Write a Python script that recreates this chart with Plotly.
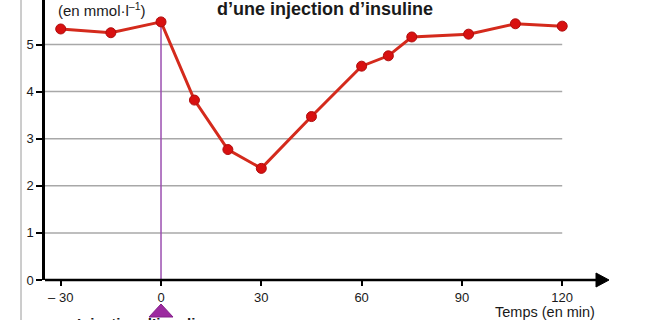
import plotly.graph_objects as go

# Data
temps = [-30, -15, 0, 10, 20, 30, 45, 60, 68, 75, 92, 106, 120]
glycemie = [5.33, 5.25, 5.48, 3.82, 2.77, 2.37, 3.47, 4.54, 4.76, 5.16, 5.22, 5.44, 5.39]
x_ticks = [-30, 0, 30, 60, 90, 120]
x_ticklabels = ["– 30", "0", "30", "60", "90", "120"]
y_ticks = [0, 1, 2, 3, 4, 5]
injection_time = 0

W, H = 646, 320
L, R, T, B = 45, 41, 0, 40
PW, PH = W - L - R, H - T - B
XR = [-34.7, 132.8]
YR = [0, 5.945]

def px(xp):
    return (xp - L) / PW

def py(yp):
    return (H - B - yp) / PH

FONT = "Liberation Sans Narrow, Liberation Sans, Arial, sans-serif"
RED = "#d42a1c"

fig = go.Figure()

# injection marker line
inj_val = glycemie[temps.index(injection_time)]
fig.add_trace(go.Scatter(x=[injection_time, injection_time], y=[inj_val, 0], mode="lines",
                         line=dict(color="#9b4fb0", width=1.5), hoverinfo="skip", showlegend=False))

fig.add_trace(go.Scatter(x=temps, y=glycemie, mode="lines+markers",
                         line=dict(color=RED, width=3),
                         marker=dict(size=10, color="#d81010", line=dict(color="#b00d0d", width=1)),
                         cliponaxis=False, showlegend=False))

shapes = []
# grid lines stopping at 120
for v in y_ticks[1:]:
    shapes.append(dict(type="line", xref="x", yref="y", x0=XR[0], x1=x_ticks[-1], y0=v, y1=v,
                       line=dict(color="#a8a8a8", width=1.5), layer="below"))
# left grey border
shapes.append(dict(type="line", xref="paper", yref="paper", x0=px(21), x1=px(21), y0=py(0), y1=py(H),
                   line=dict(color="#9a9a9a", width=1)))
# arrow head on x axis
shapes.append(dict(type="path", xref="paper", yref="paper",
                   path=f"M {px(596)} {py(273)} L {px(609)} {py(280)} L {px(596)} {py(287)} Z",
                   fillcolor="black", line=dict(color="black", width=1)))
# x axis line extended to arrow
shapes.append(dict(type="line", xref="paper", yref="paper", x0=0, x1=px(600), y0=0, y1=0,
                   line=dict(color="black", width=2.5)))
# injection triangle under the axis
cx = (injection_time - XR[0]) / (XR[1] - XR[0])
hw = 12 / PW
shapes.append(dict(type="path", xref="paper", yref="paper",
                   path=f"M {cx - hw} {py(317)} L {cx} {py(304)} L {cx + hw} {py(317)} Z",
                   fillcolor="#9c2aa0", line=dict(color="#84208a", width=1)))

annotations = [
    dict(text="<b>d’une injection d’insuline</b>", xref="paper", yref="paper",
         x=px(325), y=py(9), xanchor="center", yanchor="middle", showarrow=False,
         font=dict(family="Liberation Sans, Arial", size=18, color="#1a1a1a")),
    dict(text="(en mmol·l<sup>–1</sup>)", xref="paper", yref="paper",
         x=px(56), y=py(10), xanchor="left", yanchor="middle", showarrow=False,
         font=dict(family=FONT, size=15, color="#1a1a1a")),
    dict(text="Temps (en min)", xref="paper", yref="paper",
         x=px(545), y=py(312), xanchor="center", yanchor="middle", showarrow=False,
         font=dict(family=FONT, size=14.5, color="#1a1a1a")),
    dict(text="<b>Injection d’insuline</b>", xref="paper", yref="paper",
         x=px(75), y=py(313), xanchor="left", yanchor="top", showarrow=False,
         font=dict(family=FONT, size=15, color="#1a1a1a")),
]

fig.update_layout(
    width=W, height=H, margin=dict(l=L, r=R, t=T, b=B),
    paper_bgcolor="white", plot_bgcolor="white",
    shapes=shapes, annotations=annotations,
    xaxis=dict(range=XR, tickmode="array", tickvals=x_ticks, ticktext=x_ticklabels,
               showgrid=False, zeroline=False, showline=False,
               ticks="outside", ticklen=5, tickwidth=1.5, tickcolor="black",
               tickfont=dict(family=FONT, size=13, color="#1a1a1a")),
    yaxis=dict(range=YR, tickmode="array", tickvals=y_ticks,
               showgrid=False, zeroline=False, showline=True, linecolor="black", linewidth=2.5,
               ticks="outside", ticklen=6, tickwidth=1.5, tickcolor="black",
               tickfont=dict(family=FONT, size=13, color="#1a1a1a")),
)

fig.write_html("out.html", config={"displayModeBar": False},
               post_script="document.body.style.margin='0';document.body.style.overflow='hidden';")
